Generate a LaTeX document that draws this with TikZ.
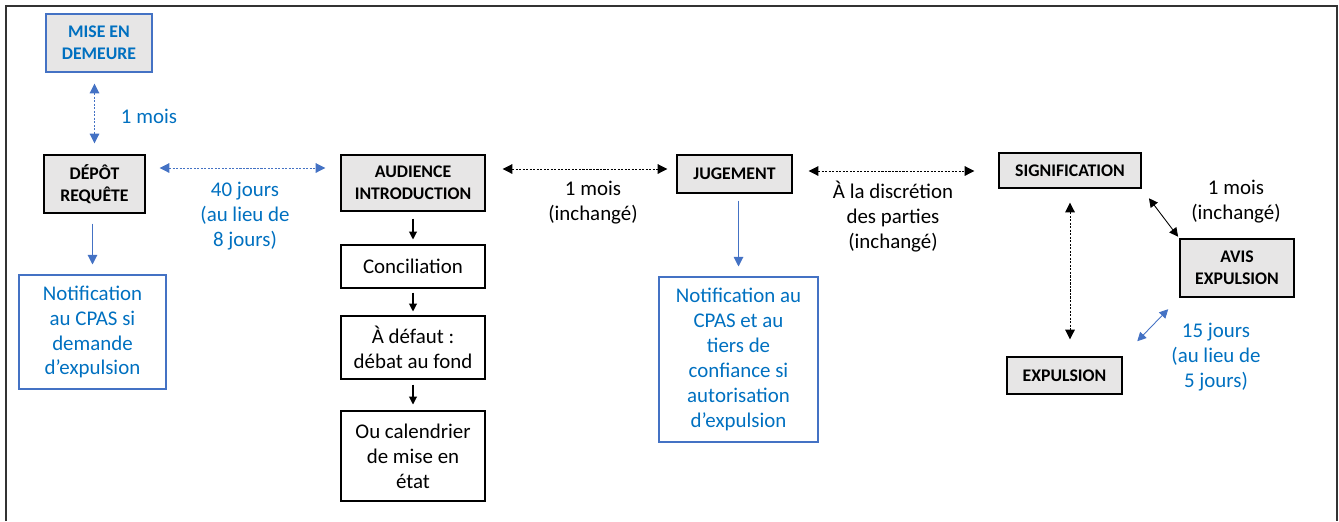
\documentclass[tikz,border=0pt]{standalone}
\usepackage{fontspec}
\setmainfont{Carlito}
\usetikzlibrary{arrows.meta, positioning}
\definecolor{boxblue}{HTML}{4472C4}
\definecolor{txtblue}{HTML}{0070C0}
\definecolor{boxgray}{HTML}{E7E6E6}

\begin{document}
\begin{tikzpicture}[x=0.02cm, y=-0.02cm,
    every node/.style={inner sep=0pt, align=center},
    stage/.style={draw, line width=0.8pt, fill=boxgray, font=\bfseries\fontsize{10.1}{12.3}\selectfont},
    bluestage/.style={stage, draw=boxblue, text=txtblue},
    plain/.style={draw, line width=0.6pt, font=\fontsize{11.9}{14.2}\selectfont},
    bluenote/.style={plain, draw=boxblue, text=txtblue},
    delay/.style={font=\fontsize{11.9}{14.2}\selectfont},
    bluedelay/.style={delay, text=txtblue},
    span/.style={line width=0.5pt, dash pattern=on 1.2pt off 0.8pt,
        {Triangle[length=5.5pt,width=5.5pt]}-{Triangle[length=5.5pt,width=5.5pt]}},
    bluespan/.style={span, boxblue},
    smallspan/.style={line width=0.5pt,
        {Triangle[length=5pt,width=5pt]}-{Triangle[length=5pt,width=5pt]}},
    step down/.style={line width=0.6pt, -{Triangle[length=4.5pt,width=4.5pt]}},
    bluedown/.style={step down, boxblue, -{Triangle[length=5.5pt,width=5.5pt]}}]
    % Frame
    \useasboundingbox (0,0) rectangle (1339,521);
    \draw[line width=1pt, black!80] (6,521) -- (6,6) -- (1337,6) -- (1337,521);

    % First column
    \node (mise) [bluestage, minimum width=2.12cm, minimum height=1.16cm] at (99,43) {MISE EN\\DEMEURE};
    \node (depot) [stage, minimum width=2.02cm, minimum height=1.16cm] at (94.5,184) {DÉPÔT\\REQUÊTE};
    \node (notifdepot) [bluenote, minimum width=2.94cm, minimum height=2.28cm] at (92.5,332)
        {Notification\\au CPAS si\\demande\\d’expulsion};
    \node (moisdepot) [bluedelay] at (149,116) {1 mois};
    \node (quarante) [bluedelay] at (245,216) {40 jours\\(au lieu de\\8 jours)};

    % Audience column
    \node (audience) [stage, minimum width=2.88cm, minimum height=1.12cm] at (413,183) {AUDIENCE\\INTRODUCTION};
    \node (concil) [plain, minimum width=2.88cm, minimum height=0.86cm] at (413,266.5) {Conciliation};
    \node (defaut) [plain, minimum width=2.88cm, minimum height=1.26cm] at (413,347.5) {À défaut :\\débat au fond};
    \node (calendrier) [plain, minimum width=2.88cm, minimum height=1.80cm] at (413,456)
        {Ou calendrier\\de mise en\\état};
    \node (moisaud) [delay] at (593,203) {1 mois\\(inchangé)};

    % Jugement column
    \node (jugement) [stage, minimum width=2.30cm, minimum height=0.76cm] at (734.5,174) {JUGEMENT};
    \node (notifjug) [bluenote, minimum width=3.18cm, minimum height=3.30cm] at (738.5,359.5)
        {Notification au\\CPAS et au\\tiers de\\confiance si\\autorisation\\d’expulsion};
    \node (discretion) [delay] at (893,217) {À la discrétion\\des parties\\(inchangé)};

    % Last steps
    \node (signif) [stage, minimum width=2.84cm, minimum height=0.70cm] at (1070,170.5) {SIGNIFICATION};
    \node (avis) [stage, minimum width=2.28cm, minimum height=1.16cm] at (1237,268) {AVIS\\EXPULSION};
    \node (expulsion) [stage, minimum width=2.30cm, minimum height=0.74cm] at (1064.5,375.5) {EXPULSION};
    \node (moisavis) [delay] at (1236,202) {1 mois\\(inchangé)};
    \node (quinze) [bluedelay] at (1216,357) {15 jours\\(au lieu de\\5 jours)};

    % Delays
    \draw[bluespan, shorten <=0.22cm, shorten >=0.22cm] (mise.south -| depot.north) -- (depot.north);
    \draw[bluespan, shorten <=0.28cm, shorten >=0.30cm]
        ([yshift=0.32cm]depot.east) -- ([yshift=0.32cm]depot.east -| audience.west);
    \draw[span, shorten <=0.34cm, shorten >=0.18cm]
        ([yshift=0.28cm]audience.east) -- ([yshift=0.28cm]audience.east -| jugement.west);
    \draw[span, shorten <=0.32cm, shorten >=0.48cm]
        ([yshift=0.06cm]jugement.east) -- ([yshift=0.06cm]jugement.east -| signif.west);
    \draw[span, shorten <=0.28cm, shorten >=0.34cm] (signif.south) -- (signif.south |- expulsion.north);
    \draw[smallspan, shorten <=0.24cm, shorten >=0.04cm] (signif.south east) -- (avis.north west);
    \draw[smallspan, boxblue, shorten <=0.42cm, shorten >=0.32cm] (expulsion.north east) -- (avis.south west);

    % Steps
    \draw[step down, shorten <=0.14cm, shorten >=0.10cm] (audience) -- (concil);
    \draw[step down, shorten <=0.08cm, shorten >=0.08cm] (concil) -- (defaut);
    \draw[step down, shorten <=0.10cm, shorten >=0.12cm] (defaut) -- (calendrier);
    \draw[bluedown, shorten <=0.20cm, shorten >=0.20cm] (depot.south -| notifdepot.north) -- (notifdepot.north);
    \draw[bluedown, shorten <=0.14cm, shorten >=0.20cm] (jugement.south -| notifjug.north) -- (notifjug.north);
\end{tikzpicture}
\end{document}
